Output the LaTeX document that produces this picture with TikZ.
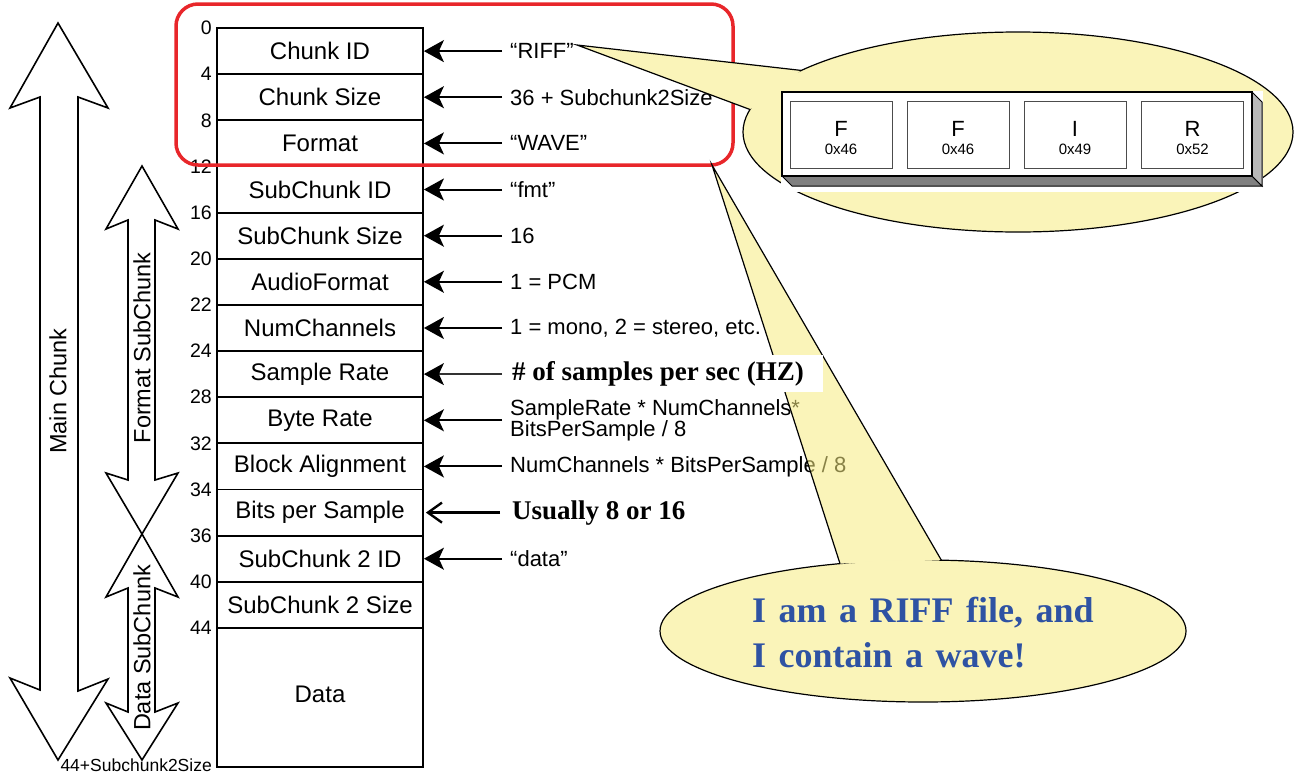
\documentclass[tikz,border=0pt]{standalone}
\usepackage{fontspec}
\setmainfont{Liberation Sans}
\newfontfamily\tnr{Liberation Serif}
\usetikzlibrary{arrows.meta,calc}
\definecolor{callY}{RGB}{250,244,185}
\definecolor{callT}{RGB}{246,235,128}
\definecolor{riffred}{RGB}{232,38,42}
\definecolor{callblue}{RGB}{46,82,163}
\definecolor{faceD}{RGB}{128,128,128}
\definecolor{faceL}{RGB}{185,185,185}
\newcommand\widespace{\spaceskip=12.5pt\relax}
\begin{document}
\begin{tikzpicture}[x=1pt,y=-1pt,
  rowbox/.style={draw, line width=1.8pt, minimum width=206pt, minimum height=46.15pt, inner sep=0pt, font=\fontsize{24}{28}\selectfont},
  ann/.style={anchor=west, inner sep=0pt, align=left, font=\fontsize{22}{21}\selectfont},
  annb/.style={anchor=west, inner sep=0pt, font=\tnr\bfseries\fontsize{27}{30}\selectfont},
  offs/.style={anchor=east, inner sep=0pt, font=\fontsize{19.5}{22}\selectfont},
  offlong/.style={anchor=east, inner sep=0pt, font=\fontsize{17.5}{20}\selectfont},
  ptr/.style={line width=2pt, -{Stealth[length=20pt,width=22pt,inset=5pt]}},
  ptrfine/.style={line width=1.3pt, draw=black!80, -{Stealth[length=20pt,width=22pt,inset=5pt,fill=black,color=black]}},
  ptrbarb/.style={line width=2.4pt, -{Straight Barb[length=14pt,width=20pt]}},
  span/.style={line width=1.6pt, line join=miter},
  spanlbl/.style={rotate=90, inner sep=0pt, font=\fontsize{23.5}{26}\selectfont},
  cell/.style={draw=black!70, line width=0.9pt, minimum width=102pt, minimum height=67pt, inner sep=0pt},
  letter/.style={inner sep=0pt, font=\fontsize{22}{22}\selectfont},
  hex/.style={inner sep=0pt, font=\fontsize{15}{15}\selectfont},
  callline/.style={line width=1.2pt},
  calltext/.style={anchor=base west, inner sep=0pt, align=left, text=callblue, font=\tnr\bfseries\fontsize{36}{45}\selectfont\widespace}
]
\useasboundingbox (0,0) rectangle (1297,774);

% ---- span arrows on the left
\draw[span] (58,23) -- (108,108) -- (78,97) -- (78,691) -- (108,679) -- (58,760) -- (10,678) -- (40,690) -- (40,97) -- (10,108) -- cycle;
\draw[span] (142,166) -- (178,229) -- (155,220) -- (155,480) -- (178,473) -- (142,534) -- (106,473) -- (128,480) -- (128,220) -- (106,229) -- cycle;
\draw[span] (142,534) -- (178,597) -- (155,588) -- (155,712) -- (178,703) -- (142,760) -- (106,703) -- (128,712) -- (128,588) -- (106,597) -- cycle;
\node[spanlbl] (lmain) at (58,391) {Main Chunk};
\node[spanlbl] (lfmt) at (142,348) {Format SubChunk};
\node[spanlbl] (ldata) at (142,648) {Data SubChunk};

% ---- table rows
\node[rowbox] (r0) at (320,51.1) {Chunk ID};
\node[rowbox] (r1) at (320,97.2) {Chunk Size};
\node[rowbox] (r2) at (320,143.4) {Format};
\node[rowbox] (r3) at (320,189.5) {SubChunk ID};
\node[rowbox] (r4) at (320,235.7) {SubChunk Size};
\node[rowbox] (r5) at (320,281.8) {AudioFormat};
\node[rowbox] (r6) at (320,328.0) {NumChannels};
\node[rowbox] (r7) at (320,374.1) {Sample Rate};
\node[rowbox] (r8) at (320,420.3) {Byte Rate};
\node[rowbox] (r9) at (320,466.4) {Block Alignment};
\node[rowbox] (r10) at (320,512.6) {Bits per Sample};
\node[rowbox] (r11) at (320,558.7) {SubChunk 2 ID};
\node[rowbox] (r12) at (320,604.9) {SubChunk 2 Size};
\node[rowbox, minimum height=139pt] (r13) at (320,697.5) {\raisebox{7pt}{Data}};

% ---- offsets
\node[offs] (o0) at (212,28) {0};
\node[offs] (o1) at (212,74.2) {4};
\node[offs] (o2) at (212,120.3) {8};
\node[offs] (o3) at (212,166.5) {12};
\node[offs] (o4) at (212,212.6) {16};
\node[offs] (o5) at (212,258.8) {20};
\node[offs] (o6) at (212,304.9) {22};
\node[offs] (o7) at (212,351.1) {24};
\node[offs] (o8) at (212,397.2) {28};
\node[offs] (o9) at (212,443.4) {32};
\node[offs] (o10) at (212,489.5) {34};
\node[offs] (o11) at (212,535.7) {36};
\node[offs] (o12) at (212,581.8) {40};
\node[offs] (o13) at (212,628) {44};
\node[offlong] (o14) at (212,765) {44+Subchunk2Size};

% ---- annotations
\node[ann] (a0) at (510,51.1) {“RIFF”};
\node[ann] (a1) at (510,97.2) {36 + Subchunk2Size};
\node[ann] (a2) at (510,143.4) {“WAVE”};
\node[ann] (a3) at (510,189.5) {“fmt”};
\node[ann] (a4) at (510,235.7) {16};
\node[ann] (a5) at (510,281.8) {1 = PCM};
\node[ann] (a6) at (510,328.0) {1 = mono, 2 = stereo, etc.};
\node[ann] (a8) at (510,420.3) {SampleRate * NumChannels*\\BitsPerSample / 8};
\node[ann] (a9) at (510,466.4) {NumChannels * BitsPerSample / 8};
\node[annb] (a10) at (512,512.6) {Usually 8 or 16};
\node[ann] (a11) at (510,558.7) {“data”};

\foreach \i in {0,1,2,3,4,5,6,8,9,11}{
  \draw[ptr] ([xshift=-8pt]a\i.west) -- (r\i.east);
}
\draw[ptrbarb] ([xshift=-12pt]a10.west) -- ([xshift=2pt]r10.east);

% ---- red highlight
\draw[riffred, line width=3.5pt, rounded corners=22pt] (176,4) rectangle (733,165);

% ---- callout 1 (RIFF bytes)
\coordinate (c1) at (1018,132);
\coordinate (t1) at (577,45);
\coordinate (p1a) at ($(c1)+(218:275 and 100)$);
\coordinate (p1b) at ($(c1)+(193:275 and 100)$);
\fill[callY] (t1) -- (p1a) -- (p1b) -- cycle;
\fill[callY] (c1) ellipse [x radius=275pt, y radius=100pt];
\begin{scope}[even odd rule]
  \clip (-5,-5) rectangle (1302,779) (t1) -- (p1a) -- (p1b) -- cycle;
  \draw[callline] (c1) ellipse [x radius=275pt, y radius=100pt];
\end{scope}
\draw[callline] (p1a) -- (t1) -- (p1b);

\fill[white] (781,91) rectangle (1263,192);
\filldraw[fill=faceD, draw=black, line width=1pt] (782,176) -- (1252,176) -- (1262,186) -- (792,186) -- cycle;
\filldraw[fill=faceL, draw=black, line width=1pt] (1252,92) -- (1262,102) -- (1262,186) -- (1252,176) -- cycle;
\draw[line width=1.5pt, fill=white] (782,92) rectangle (1252,176);
\node[cell] (b0) at (841,134.5) {};
\node[cell] (b1) at (958,134.5) {};
\node[cell] (b2) at (1075,134.5) {};
\node[cell] (b3) at (1192.5,134.5) {};
\node[letter] (l0) at (841,128.6) {F};
\node[letter] (l1) at (958,128.6) {F};
\node[letter] (l2) at (1075,128.6) {I};
\node[letter] (l3) at (1192.5,128.6) {R};
\node[hex] (h0) at (841,149) {0x46};
\node[hex] (h1) at (958,149) {0x46};
\node[hex] (h2) at (1075,149) {0x49};
\node[hex] (h3) at (1192.5,149) {0x52};

% ---- callout 2 (message)
\coordinate (c2) at (923,631);
\coordinate (t2) at (712,165);
\coordinate (p2a) at ($(c2)+(251.6:263 and 71)$);
\coordinate (p2b) at ($(c2)+(274:263 and 71)$);
\fill[callT, fill opacity=0.55] (t2) -- (p2a) -- (p2b) -- cycle;
\fill[callY] (c2) ellipse [x radius=263pt, y radius=71pt];
\begin{scope}[even odd rule]
  \clip (-5,-5) rectangle (1302,779) (t2) -- (p2a) -- (p2b) -- cycle;
  \draw[callline] (c2) ellipse [x radius=263pt, y radius=71pt];
\end{scope}
\draw[callline] (p2a) -- (t2) -- (p2b);
\node[calltext] (msg) at (752,667) {I am a RIFF file, and\\I contain a wave!};

% ---- sample-rate note on white box (over the pointer)
\fill[white] (505,355) rectangle (823,392);
\node[annb] (a7) at (512,374.1) {\# of samples per sec (HZ)};
\draw[ptrfine] ([xshift=-10pt]a7.west) -- (r7.east);
\end{tikzpicture}
\end{document}
